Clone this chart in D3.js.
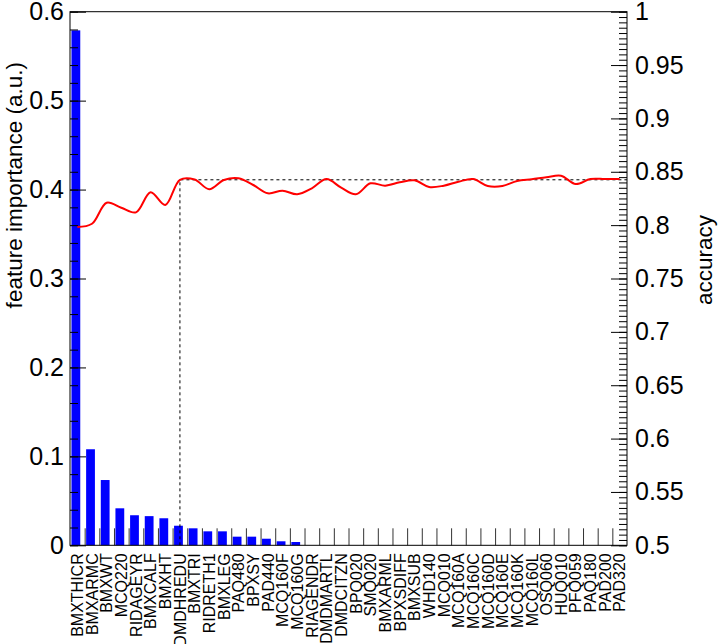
<!DOCTYPE html>
<html>
<head>
<meta charset="utf-8">
<script src="https://cdn.jsdelivr.net/npm/d3@7"></script>
<style>
  body { margin: 0; background: #fff; }
  svg { display: block; font-family: "Liberation Sans", Arial, sans-serif; }
</style>
</head>
<body>
<div id="chart"></div>
<script>
// features ranked by importance (bin labels)
const features = [
  "BMXTHICR", "BMXARMC", "BMXWT", "MCQ220", "RIDAGEYR", "BMXCALF", "BMXHT",
  "DMDHREDU", "BMXTRI", "RIDRETH1", "BMXLEG", "PAQ480", "BPXSY", "PAD440",
  "MCQ160F", "MCQ160G", "RIAGENDR", "DMDMARTL", "DMDCITZN", "BPQ020", "SMQ020",
  "BMXARML", "BPXSDIFF", "BMXSUB", "WHD140", "MCQ010", "MCQ160A", "MCQ160C",
  "MCQ160D", "MCQ160E", "MCQ160K", "MCQ160L", "OSQ060", "HUQ010", "PFQ059",
  "PAQ180", "PAD200", "PAD320"
];

// feature importance (left axis)
const importance = [
  0.579, 0.108, 0.0734, 0.0416, 0.0338, 0.0328, 0.0304, 0.0220, 0.0191, 0.0157,
  0.0157, 0.0097, 0.0097, 0.0074, 0.0045, 0.0037, 0, 0, 0, 0, 0, 0, 0, 0, 0, 0,
  0, 0, 0, 0, 0, 0, 0, 0, 0, 0, 0, 0
];

// accuracy using the first n features (right axis)
const accuracy = [
  0.7983, 0.8013, 0.8210, 0.8163, 0.8120, 0.8308, 0.8189, 0.8425, 0.8428, 0.8336,
  0.8423, 0.8439, 0.8376, 0.8298, 0.8323, 0.8289, 0.8345, 0.8432, 0.8351, 0.8289,
  0.8392, 0.8370, 0.8401, 0.8420, 0.8357, 0.8370, 0.8407, 0.8432, 0.8367, 0.8367,
  0.8414, 0.8430, 0.8448, 0.8463, 0.8385, 0.8432, 0.8432, 0.8432
];

const leftTicks = [0, 0.1, 0.2, 0.3, 0.4, 0.5, 0.6];
const rightTicks = [0.5, 0.55, 0.6, 0.65, 0.7, 0.75, 0.8, 0.85, 0.9, 0.95, 1];
const chosenIndex = 7; // DMDHREDU, marked with dashed lines

const width = 724;
const height = 644;
const padL = 70, padR = 627, padT = 11.7, padB = 545.3;

const svg = d3.select("#chart").append("svg")
  .attr("width", width)
  .attr("height", height);

const x = d3.scaleBand().domain(features).range([padL, padR]).padding(0);
const bw = x.bandwidth();
const xEdge = d3.scaleLinear().domain([0, features.length]).range([padL, padR]);
const yImp = d3.scaleLinear().domain([0, 0.6]).range([padB, padT]);
const yAcc = d3.scaleLinear().domain([0.5, 1]).range([padB, padT]);

// bars
svg.append("g")
  .selectAll("rect")
  .data(importance)
  .enter()
  .append("rect")
  .attr("x", (d, i) => x(features[i]) + 0.1 * bw)
  .attr("width", 0.6 * bw)
  .attr("y", d => yImp(d))
  .attr("height", d => padB - yImp(d))
  .attr("fill", "#0000ff");

// bin-edge ticks on the bottom axis
svg.append("g")
  .attr("transform", `translate(0,${padB})`)
  .call(d3.axisBottom(xEdge).tickValues(d3.range(1, features.length)).tickSize(-17).tickSizeOuter(0).tickFormat(""))
  .call(g => g.select(".domain").remove())
  .call(g => g.selectAll("line").attr("stroke", "#333"));

// bin labels, vertical
svg.append("g")
  .selectAll("text")
  .data(features)
  .enter()
  .append("text")
  .attr("transform", d => `translate(${x(d) + bw / 2 + 5.8},${padB + 8}) rotate(-90)`)
  .attr("text-anchor", "end")
  .attr("font-size", 16)
  .text(d => d);

// left axis
const fontTick = 25;
svg.append("g")
  .attr("transform", `translate(${padL},0)`)
  .call(d3.axisLeft(yImp).tickValues(d3.range(0, 0.601, 0.02)).tickSize(-8).tickSizeOuter(0).tickFormat(""))
  .call(g => g.select(".domain").remove());
svg.append("g")
  .attr("transform", `translate(${padL},0)`)
  .call(d3.axisLeft(yImp).tickValues(leftTicks).tickSize(-16).tickSizeOuter(0).tickPadding(6).tickFormat(d3.format("~g")))
  .call(g => g.select(".domain").remove())
  .call(g => g.selectAll("text").attr("font-size", fontTick).attr("font-family", null).attr("fill", "#000"));

// right axis
svg.append("g")
  .attr("transform", `translate(${padR},0)`)
  .call(d3.axisRight(yAcc).tickValues(d3.range(0.5, 1.0001, 0.005)).tickSize(-8).tickSizeOuter(0).tickFormat(""))
  .call(g => g.select(".domain").remove());
svg.append("g")
  .attr("transform", `translate(${padR},0)`)
  .call(d3.axisRight(yAcc).tickValues(rightTicks).tickSize(-16).tickSizeOuter(0).tickPadding(8).tickFormat(d3.format("~g")))
  .call(g => g.select(".domain").remove())
  .call(g => g.selectAll("text").attr("font-size", fontTick).attr("font-family", null).attr("fill", "#000"));

// frame
svg.append("rect")
  .attr("x", padL).attr("y", padT)
  .attr("width", padR - padL).attr("height", padB - padT)
  .attr("fill", "none")
  .attr("stroke", "#000");

// dashed guide lines at the chosen point
const cx = x(features[chosenIndex]) + bw / 2;
const cy = yAcc(accuracy[chosenIndex]);
svg.append("path")
  .attr("d", `M${cx},${padB}V${cy}H${padR}`)
  .attr("fill", "none")
  .attr("stroke", "#000")
  .attr("stroke-dasharray", "3,3");

// accuracy curve
const line = d3.line()
  .x((d, i) => x(features[i]) + bw / 2)
  .y(d => yAcc(d))
  .curve(d3.curveCatmullRom.alpha(0.5));
svg.append("path")
  .datum(accuracy)
  .attr("d", line)
  .attr("fill", "none")
  .attr("stroke", "#ff0000")
  .attr("stroke-width", 2);

// axis titles
svg.append("text")
  .attr("transform", `translate(22,62) rotate(-90)`)
  .attr("text-anchor", "end")
  .attr("font-size", 22.5)
  .text("feature importance (a.u.)");

svg.append("text")
  .attr("transform", `translate(712,215) rotate(-90)`)
  .attr("text-anchor", "end")
  .attr("font-size", 22.5)
  .text("accuracy");
</script>
</body>
</html>
